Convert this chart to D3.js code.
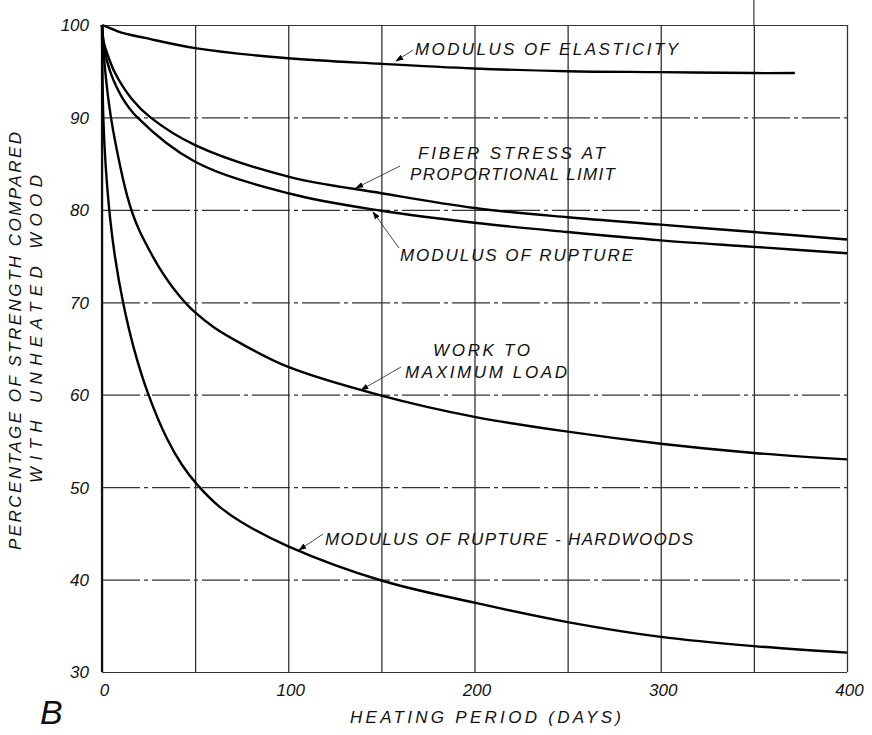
<!DOCTYPE html>
<html>
<head>
<meta charset="utf-8">
<script src="https://cdn.jsdelivr.net/npm/d3@7"></script>
<style>
  html, body { margin: 0; padding: 0; background: #fff; }
  svg text { font-family: "Liberation Sans", "DejaVu Sans", sans-serif; font-style: italic; fill: #111; }
</style>
</head>
<body>
<svg id="chart" width="872" height="735"></svg>
<script>
// ---- data ----
const days = [0, 50, 100, 150, 200, 250, 300, 350, 400];           // grid positions
const xTickLabels = [0, 100, 200, 300, 400];
const yTickLabels = [30, 40, 50, 60, 70, 80, 90, 100];

const elasticity = [[0,100],[5,99.6],[10,99.2],[23,98.6],[50,97.5],[100,96.4],[150,95.8],[200,95.3],[250,95.0],[300,94.9],[350,94.8],[372,94.8]];
const fiberStress = [[0,100],[1,98.1],[3,96.8],[7,94.8],[16,92.0],[26,90],[50,87.0],[100,83.6],[150,81.8],[200,80.2],[250,79.2],[300,78.4],[350,77.6],[400,76.8]];
const rupture = [[0,100],[1,97.7],[4.5,94.9],[11,92.1],[19,90],[50,85.2],[100,81.8],[150,79.9],[200,78.6],[250,77.6],[300,76.7],[350,76.0],[400,75.3]];
const work = [[0,100],[1.5,95.5],[4.8,90],[10.2,84.3],[13.4,81.6],[16.6,79.5],[20,77.8],[25.8,75.5],[30,74.0],[38,71.6],[45,69.9],[50,68.9],[60,67.3],[75,65.5],[100,63.0],[150,59.9],[200,57.6],[250,56.0],[300,54.7],[350,53.7],[400,53.0]];
const hardwoods = [[0,100],[0.7,90],[2,84.7],[4.3,79.2],[7,74.9],[11.3,70],[17,65.1],[24.6,60.2],[35,55.2],[43,52.4],[51,50.3],[63,47.9],[75,46.2],[100,43.6],[150,39.9],[200,37.5],[250,35.4],[300,33.8],[350,32.8],[400,32.1]];

const series = [elasticity, fiberStress, rupture, work, hardwoods];

// ---- layout ----
const svg = d3.select("#chart");
const x = d3.scaleLinear().domain([0, 400]).range([102, 847]);
const y = d3.scaleLinear().domain([30, 100]).range([672, 25]);

// grid lines
const gx = svg.append("g").attr("transform", `translate(0,${y(30)})`)
  .call(d3.axisBottom(x).tickValues(days).tickSize(-(y(30) - y(100))).tickFormat(""));
gx.select(".domain").remove();
gx.selectAll("line").attr("stroke", "#333").attr("stroke-width", 1.3);

const gy = svg.append("g").attr("transform", `translate(${x(0)},0)`)
  .call(d3.axisLeft(y).tickValues(yTickLabels).tickSize(-(x(400) - x(0))).tickFormat(""));
gy.select(".domain").remove();
gy.selectAll("line").attr("stroke", "#333").attr("stroke-width", 1.2)
  .attr("stroke-dasharray", d => (d === 30 || d === 100) ? null : "38,4,4,4");

// frame
svg.append("line").attr("x1", x(0)).attr("x2", x(0)).attr("y1", y(100)).attr("y2", y(30))
  .attr("stroke", "#111").attr("stroke-width", 2.2);
svg.append("line").attr("x1", x(350)).attr("x2", x(350)).attr("y1", 0).attr("y2", y(100))
  .attr("stroke", "#333").attr("stroke-width", 1.2);

// tick labels
const ty = svg.append("g").attr("transform", `translate(${x(0) - 10},0)`)
  .call(d3.axisLeft(y).tickValues(yTickLabels).tickSize(0).tickFormat(d3.format("d")));
ty.select(".domain").remove();
ty.selectAll("text").attr("font-size", 17).attr("dy", "0.35em").attr("x", -3);

const tx = svg.append("g").attr("transform", `translate(2,${y(30) + 8})`)
  .call(d3.axisBottom(x).tickValues(xTickLabels).tickSize(0).tickFormat(d3.format("d")));
tx.select(".domain").remove();
tx.selectAll("text").attr("font-size", 17).attr("dy", "0.75em");

// curves
const line = d3.line().x(d => x(d[0])).y(d => y(d[1])).curve(d3.curveCatmullRom.alpha(0.5));
svg.append("g").selectAll("path").data(series).join("path")
  .attr("d", line).attr("fill", "none").attr("stroke", "#000").attr("stroke-width", 2.4)
  .attr("stroke-linejoin", "round");

// arrow marker
svg.append("defs").append("marker").attr("id", "arr")
  .attr("viewBox", "0 0 10 10").attr("refX", 9).attr("refY", 5)
  .attr("markerWidth", 9).attr("markerHeight", 9).attr("orient", "auto")
  .append("path").attr("d", "M0,1.5 L10,5 L0,8.5 Z").attr("fill", "#000");

// annotations
const labels = [
  {lines: [{t: "MODULUS   OF   ELASTICITY", x: 415, y: 55, w: 263}], from: [413, 50], to: [396, 61]},
  {lines: [{t: "FIBER   STRESS   AT", x: 418, y: 159, w: 187}, {t: "PROPORTIONAL   LIMIT", x: 410, y: 180, w: 205}], from: [400, 166], to: [356, 188]},
  {lines: [{t: "MODULUS   OF   RUPTURE", x: 400, y: 261, w: 233}], from: [399, 248], to: [373, 212]},
  {lines: [{t: "WORK   TO", x: 433, y: 356, w: 97}, {t: "MAXIMUM   LOAD", x: 405, y: 378, w: 162}], from: [401, 367], to: [361, 390]},
  {lines: [{t: "MODULUS   OF   RUPTURE - HARDWOODS", x: 325, y: 545, w: 368}], from: [323, 534], to: [299, 550]}
];
const ann = svg.append("g");
labels.forEach(l => {
  l.lines.forEach(s => {
    ann.append("text").attr("x", s.x).attr("y", s.y).attr("font-size", 17)
      .attr("textLength", s.w).attr("lengthAdjust", "spacing").text(s.t);
  });
  ann.append("line").attr("x1", l.from[0]).attr("y1", l.from[1]).attr("x2", l.to[0]).attr("y2", l.to[1])
    .attr("stroke", "#333").attr("stroke-width", 0.9).attr("marker-end", "url(#arr)");
});

// axis titles
svg.append("text").attr("transform", "translate(21,341) rotate(-90)")
  .attr("text-anchor", "middle").attr("font-size", 17)
  .attr("textLength", 418).attr("lengthAdjust", "spacing")
  .text("PERCENTAGE   OF   STRENGTH   COMPARED");
svg.append("text").attr("transform", "translate(42,329) rotate(-90)")
  .attr("text-anchor", "middle").attr("font-size", 17)
  .attr("textLength", 308).attr("lengthAdjust", "spacing")
  .text("WITH   UNHEATED   WOOD");
svg.append("text").attr("x", 350).attr("y", 723).attr("font-size", 17)
  .attr("textLength", 271).attr("lengthAdjust", "spacing")
  .text("HEATING   PERIOD   (DAYS)");
svg.append("text").attr("x", 40).attr("y", 724).attr("font-size", 34)
  .text("B");
</script>
</body>
</html>
